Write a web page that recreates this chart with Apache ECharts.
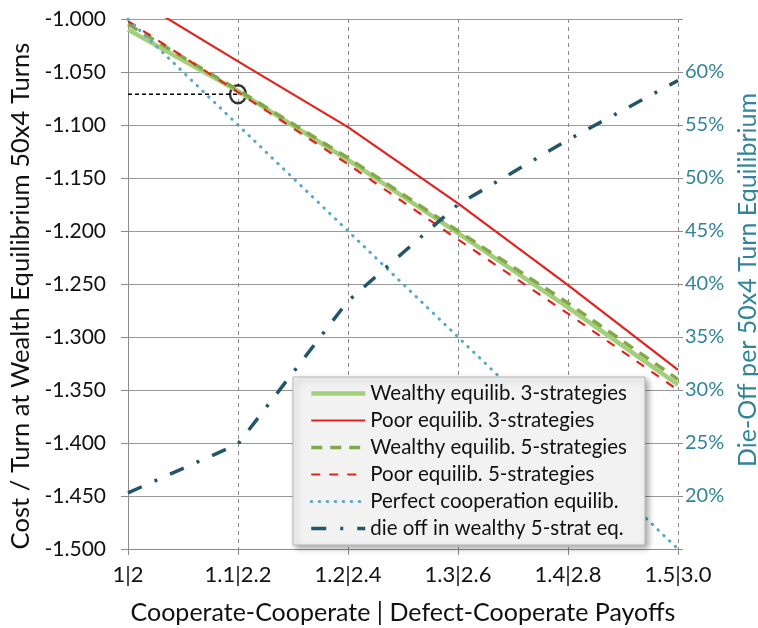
<!DOCTYPE html>
<html>
<head>
<meta charset="utf-8">
<script src="https://cdn.jsdelivr.net/npm/echarts@6/dist/echarts.min.js"></script>
<style>html,body{margin:0;padding:0;background:#fff;}#c{width:758px;height:628px;}</style>
</head>
<body>
<div id="c"></div>
<script>
// ---- data ----
const xValues = [1.0, 1.1, 1.2, 1.3, 1.4, 1.5];
const xTickLabels = ['1|2', '1.1|2.2', '1.2|2.4', '1.3|2.6', '1.4|2.8', '1.5|3.0'];
const wealthy3 = [-1.010, -1.068, -1.133, -1.202, -1.272, -1.345];
const poor3 = [-0.977, -1.040, -1.102, -1.174, -1.251, -1.331];
const wealthy5 = [-1.005, -1.067, -1.131, -1.200, -1.268, -1.340];
const poor5 = [-1.002, -1.069, -1.137, -1.208, -1.278, -1.350];
const perfect = [-1.000, -1.100, -1.200, -1.300, -1.400, -1.500];
const dieOff = [20.3, 24.9, 38.4, 47.5, 53.6, 59.2]; // percent
const guideX = [1.0, 1.1];
const guideY = [-1.071, -1.071];
const markX = [1.1];
const markY = [-1.071];
const seriesNames = [
  'Wealthy equilib. 3-strategies',
  'Poor equilib. 3-strategies',
  'Wealthy equilib. 5-strategies',
  'Poor equilib. 5-strategies',
  'Perfect cooperation equilib.',
  'die off in wealthy 5-strat eq.'
];

const pair = (xs, ys) => xs.map((x, i) => [x, ys[i]]);
const FONT = 'Lato';
const TEAL = '#31849B';

const styles = [
  {color: '#a3cf7c', width: 4.5, type: 'solid'},
  {color: '#e4221d', width: 2.2, type: 'solid'},
  {color: '#84a848', width: 3.5, type: [11, 8]},
  {color: '#e4221d', width: 2.2, type: [9, 9]},
  {color: '#5aa9c8', width: 3, type: [0.5, 7.5], cap: 'round'},
  {color: '#23566a', width: 3.5, type: [15, 14, 3, 14]}
];
const seriesData = [wealthy3, poor3, wealthy5, poor5, perfect, dieOff];

const mainSeries = seriesNames.map((n, i) => ({
  name: n, type: 'line', symbol: 'none',
  yAxisIndex: i === 5 ? 1 : 0,
  data: pair(xValues, seriesData[i]),
  lineStyle: styles[i], itemStyle: {color: styles[i].color}
}));

const chart = echarts.init(document.getElementById('c'), null, {renderer: 'canvas'});
chart.setOption({
  animation: false,
  textStyle: {fontFamily: FONT},
  grid: {left: 128, right: 80, top: 19, bottom: 79, containLabel: false, outerBoundsMode: 'none'},
  xAxis: {
    type: 'value', min: 1.0, max: 1.5, interval: 0.1,
    axisLine: {show: true, lineStyle: {color: '#8c8c8c', width: 1}},
    axisTick: {show: true, length: 6, lineStyle: {color: '#8c8c8c'}},
    axisLabel: {
      margin: 15, color: '#111', fontSize: 22, fontFamily: FONT,
      formatter: v => xTickLabels[Math.round((v - 1) * 10)] || ''
    },
    splitLine: {show: true, lineStyle: {color: '#8a8a8a', type: [4, 4], width: 1}},
    name: 'Cooperate-Cooperate | Defect-Cooperate Payoffs',
    nameLocation: 'middle', nameGap: 51,
    nameTextStyle: {fontSize: 25, color: '#111', fontFamily: FONT}
  },
  yAxis: [{
    type: 'value', min: -1.5, max: -1.0, interval: 0.05,
    axisLine: {show: true, lineStyle: {color: '#8c8c8c', width: 1}},
    axisTick: {show: true, length: 7, lineStyle: {color: '#8c8c8c'}},
    axisLabel: {margin: 22, color: '#111', fontSize: 21, fontFamily: FONT,
      formatter: v => v.toFixed(3)},
    splitLine: {show: true, lineStyle: {color: '#9a9a9a', width: 1}},
    name: 'Cost / Turn at Wealth Equilibrium 50x4 Turns',
    nameLocation: 'middle', nameGap: 82, nameRotate: 90,
    nameTextStyle: {fontSize: 25.6, color: '#111', fontFamily: FONT, padding: [0, 24, 0, 0]}
  }, {
    type: 'value', min: 15, max: 65, interval: 5, position: 'right',
    axisLine: {show: false},
    axisTick: {show: true, length: 5, lineStyle: {color: '#8c8c8c'}},
    axisLabel: {margin: 7, color: TEAL, fontSize: 20, fontFamily: FONT,
      formatter: v => (v <= 15 || v >= 65) ? '' : Math.round(v) + '%'},
    splitLine: {show: false},
    name: 'Die-Off per 50x4 Turn Equilibrium',
    nameLocation: 'middle', nameGap: 53, nameRotate: 90,
    nameTextStyle: {fontSize: 25, color: TEAL, fontFamily: FONT, padding: [0, 0, 0, 8]}
  }],
  legend: {
    orient: 'vertical', left: 293, top: 377,
    data: seriesNames.map((n, i) => ({name: n, lineStyle: {width: styles[i].width}})),
    itemWidth: 54, itemHeight: 14, itemGap: 6,
    padding: [6, 18, 6, 16],
    backgroundColor: '#f2f2f2',
    borderColor: '#b5b5b5', borderWidth: 1,
    shadowBlur: 6, shadowColor: 'rgba(0,0,0,0.35)', shadowOffsetX: 3, shadowOffsetY: 3,
    itemStyle: {opacity: 0},
    textStyle: {fontSize: 20.5, lineHeight: 20, color: '#111', fontFamily: FONT}
  },
  series: mainSeries.concat([
    {name: 'guide', type: 'line', symbol: 'none', data: pair(guideX, guideY), silent: true,
      lineStyle: {color: '#000', width: 1.3, type: [4, 3]}},
    {name: 'mark', type: 'scatter', data: pair(markX, markY), symbol: 'circle', symbolSize: [16, 18],
      itemStyle: {color: 'rgba(0,0,0,0)', borderColor: '#000', borderWidth: 2.5}, silent: true}
  ])
});
</script>
</body>
</html>
